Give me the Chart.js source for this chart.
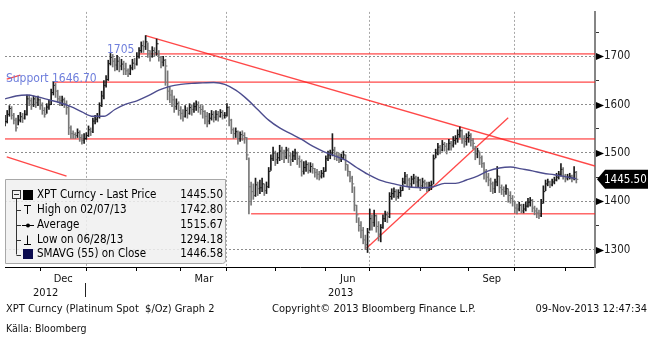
<!DOCTYPE html>
<html>
<head>
<meta charset="utf-8">
<script src="https://cdn.jsdelivr.net/npm/chart.js@4.4.0/dist/chart.umd.min.js"></script>
<style>
  html, body { margin: 0; padding: 0; background: #fff; }
  #wrap { width: 654px; height: 338px; }
</style>
</head>
<body>
<div id="wrap"><canvas id="xpt" width="654" height="338"></canvas></div>
<script>
// XPT Curncy daily bars, first bar Fri 09-Nov-2012, one row per week (Mon-Fri)
const START_DAY = '2012-11-09';
const highs = [
  1578,
  1588, 1598, 1596, 1582, 1572,
  1578, 1584, 1582, 1588, 1620,
  1620, 1614, 1618, 1616, 1618,
  1612, 1604, 1594, 1602, 1610,
  1632, 1648, 1644, 1630, 1618,
  1618, 1614, 1608, 1598, 1556,
  1546, 1542, 1550, 1546, 1538,
  1540, 1542, 1556, 1552, 1572,
  1578, 1582, 1604, 1628, 1650,
  1660, 1692, 1706, 1704, 1696,
  1702, 1698, 1694, 1690, 1686,
  1674, 1682, 1694, 1696, 1708,
  1718, 1730, 1732, 1743, 1728,
  1712, 1720, 1718, 1736, 1712,
  1700, 1700, 1694, 1670, 1636,
  1630, 1618, 1612, 1606, 1596,
  1590, 1598, 1594, 1602, 1600,
  1604, 1608, 1606, 1600, 1598,
  1588, 1584, 1582, 1588, 1586,
  1588, 1586, 1590, 1588, 1584,
  1602, 1596, 1570, 1552, 1552,
  1546, 1544, 1546, 1542, 1532,
  1490, 1440, 1436, 1448, 1440,
  1444, 1448, 1436, 1440, 1470,
  1496, 1512, 1504, 1500, 1516,
  1512, 1506, 1512, 1510, 1500,
  1504, 1508, 1502, 1494, 1486,
  1482, 1484, 1480, 1480, 1478,
  1468, 1466, 1462, 1464, 1470,
  1494, 1504, 1506, 1540, 1512,
  1502, 1500, 1498, 1504, 1496,
  1476, 1462, 1452, 1430, 1392,
  1366, 1358, 1346, 1330, 1344,
  1384, 1372, 1382, 1372, 1358,
  1352, 1372, 1380, 1378, 1418,
  1426, 1428, 1424, 1424, 1430,
  1448, 1460, 1456, 1448, 1452,
  1456, 1452, 1450, 1446, 1448,
  1444, 1440, 1440, 1442, 1496,
  1508, 1520, 1516, 1526, 1522,
  1520, 1528, 1524, 1534, 1536,
  1548, 1554, 1548, 1536, 1540,
  1544, 1540, 1530, 1514, 1510,
  1502, 1494, 1480, 1466, 1458,
  1448, 1440, 1446, 1472, 1452,
  1434, 1430, 1434, 1426, 1420,
  1412, 1400, 1394, 1398, 1394,
  1394, 1398, 1406, 1408, 1404,
  1390, 1386, 1382, 1404, 1432,
  1444, 1446, 1442, 1446, 1450,
  1458, 1462, 1478, 1470, 1456,
  1456, 1458, 1454, 1472, 1462
];
const lows = [
  1556,
  1562, 1576, 1570, 1560, 1545,
  1558, 1564, 1563, 1570, 1578,
  1598, 1590, 1596, 1594, 1598,
  1590, 1580, 1574, 1582, 1590,
  1600, 1620, 1615, 1605, 1598,
  1598, 1594, 1580, 1538, 1530,
  1530, 1530, 1532, 1524, 1518,
  1520, 1528, 1534, 1536, 1542,
  1560, 1564, 1572, 1596, 1612,
  1636, 1650, 1682, 1678, 1670,
  1672, 1668, 1672, 1662, 1662,
  1658, 1662, 1672, 1674, 1682,
  1696, 1708, 1708, 1714, 1698,
  1690, 1698, 1700, 1702, 1690,
  1676, 1680, 1640, 1610, 1604,
  1596, 1584, 1590, 1578, 1570,
  1566, 1574, 1572, 1580, 1578,
  1584, 1588, 1584, 1580, 1572,
  1560, 1554, 1560, 1568, 1564,
  1568, 1566, 1574, 1570, 1572,
  1576, 1556, 1540, 1530, 1532,
  1518, 1524, 1526, 1520, 1486,
  1374, 1392, 1404, 1410, 1412,
  1416, 1420, 1412, 1416, 1428,
  1464, 1484, 1474, 1478, 1484,
  1486, 1480, 1488, 1480, 1474,
  1482, 1486, 1476, 1470, 1452,
  1456, 1462, 1458, 1460, 1458,
  1450, 1446, 1444, 1448, 1450,
  1462, 1484, 1488, 1494, 1486,
  1484, 1480, 1482, 1486, 1464,
  1452, 1440, 1418, 1380, 1356,
  1338, 1324, 1312, 1300, 1294,
  1340, 1340, 1348, 1336, 1318,
  1316, 1344, 1358, 1356, 1366,
  1404, 1408, 1402, 1406, 1410,
  1422, 1436, 1432, 1424, 1430,
  1436, 1430, 1430, 1422, 1426,
  1426, 1420, 1422, 1424, 1436,
  1490, 1496, 1498, 1504, 1504,
  1498, 1506, 1506, 1512, 1518,
  1522, 1532, 1520, 1512, 1516,
  1522, 1514, 1508, 1486, 1490,
  1476, 1470, 1446, 1440, 1432,
  1420, 1416, 1418, 1432, 1418,
  1414, 1410, 1414, 1398, 1396,
  1390, 1376, 1374, 1380, 1376,
  1376, 1380, 1388, 1390, 1378,
  1372, 1366, 1364, 1368, 1396,
  1422, 1432, 1428, 1432, 1436,
  1442, 1446, 1452, 1446, 1440,
  1444, 1446, 1440, 1444, 1438
];
const closes = [
  1565,
  1580, 1592, 1578, 1568, 1552,
  1568, 1575, 1572, 1580, 1612,
  1608, 1600, 1612, 1604, 1610,
  1598, 1588, 1580, 1595, 1600,
  1625, 1640, 1628, 1612, 1608,
  1610, 1602, 1594, 1552, 1540,
  1538, 1536, 1542, 1532, 1526,
  1530, 1536, 1548, 1544, 1566,
  1570, 1575, 1598, 1618, 1640,
  1652, 1685, 1698, 1690, 1682,
  1690, 1680, 1684, 1674, 1670,
  1664, 1676, 1686, 1684, 1700,
  1712, 1722, 1720, 1730, 1712,
  1700, 1712, 1708, 1726, 1698,
  1688, 1692, 1680, 1628, 1620,
  1610, 1596, 1602, 1588, 1582,
  1576, 1588, 1582, 1594, 1590,
  1596, 1600, 1594, 1590, 1586,
  1576, 1566, 1572, 1580, 1574,
  1580, 1576, 1584, 1578, 1578,
  1594, 1568, 1548, 1540, 1544,
  1530, 1538, 1536, 1532, 1496,
  1430, 1420, 1412, 1434, 1426,
  1428, 1436, 1422, 1430, 1462,
  1488, 1500, 1486, 1490, 1504,
  1500, 1492, 1506, 1494, 1486,
  1494, 1500, 1488, 1482, 1462,
  1470, 1476, 1464, 1472, 1468,
  1460, 1456, 1452, 1458, 1462,
  1488, 1496, 1500, 1506, 1498,
  1494, 1486, 1490, 1496, 1476,
  1462, 1448, 1436, 1392, 1372,
  1350, 1340, 1320, 1310, 1336,
  1364, 1356, 1370, 1348, 1332,
  1346, 1364, 1372, 1368, 1410,
  1416, 1420, 1410, 1418, 1422,
  1440, 1452, 1444, 1436, 1446,
  1448, 1440, 1444, 1432, 1440,
  1436, 1426, 1432, 1434, 1488,
  1500, 1512, 1506, 1518, 1514,
  1508, 1520, 1516, 1526, 1530,
  1538, 1546, 1530, 1524, 1532,
  1536, 1526, 1520, 1498, 1504,
  1490, 1478, 1462, 1450, 1444,
  1436, 1426, 1440, 1452, 1428,
  1424, 1420, 1426, 1412, 1406,
  1400, 1386, 1384, 1392, 1380,
  1384, 1390, 1398, 1402, 1386,
  1380, 1376, 1370, 1396, 1420,
  1436, 1440, 1434, 1440, 1444,
  1450, 1456, 1466, 1452, 1448,
  1450, 1452, 1448, 1460, 1445.5
];

// SMAVG (55), at trading-day index
const maIdx = [0, 5, 10, 15, 20, 25, 30, 35, 40, 45, 50, 55, 60, 65, 70, 75, 80, 85, 90, 95, 100,
  105, 110, 115, 120, 125, 130, 135, 140, 145, 150, 155, 160, 165, 170, 175, 180, 185, 190, 195,
  200, 205, 210, 215, 220, 225, 230, 235, 240, 245, 250, 255, 260];
const maValues = [1612, 1618, 1620, 1616, 1610, 1604, 1596, 1585, 1576, 1576, 1590, 1601, 1608,
  1618, 1630, 1638, 1642, 1644, 1645, 1646, 1642, 1630, 1612, 1590, 1568, 1552, 1540, 1528, 1514,
  1503, 1494, 1485, 1470, 1456, 1445, 1438, 1433, 1429, 1428, 1430, 1437, 1437, 1444, 1452, 1463,
  1469, 1471, 1467, 1463, 1458, 1455, 1451, 1446.6];

// hand-drawn red levels and trend lines (index, price)
const X_MAX = 268.5;
const levelPrices = [1705, 1646.7, 1529, 1374];
const levelFrom = [61, 22, 0, 112];
const trendFromIdx = [64, 164.5, 0.8, 0.8];
const trendFromPrice = [1742.8, 1303, 1492, 1653];
const trendToIdx = [X_MAX, 229, 28, 7];
const trendToPrice = [1473, 1573, 1452, 1661];

const noteTexts = ['1705', 'Support 1646.70'];
const noteIdx = [46.4, 0.4];
const notePrice = [1705, 1646.7];

const yTicks = [1300, 1350, 1400, 1450, 1500, 1550, 1600, 1650, 1700, 1750];
const monthNames = ['Jan', 'Feb', 'Mar', 'Apr', 'May', 'Jun', 'Jul', 'Aug', 'Sep', 'Oct', 'Nov', 'Dec'];
const labelledMonths = [11, 2, 5, 8];   // Dec, Mar, Jun, Sep
const gridMonths = [0, 3, 6, 9];        // quarter starts

const statNames = ['XPT Curncy - Last Price', 'High on 02/07/13', 'Average', 'Low on 06/28/13', 'SMAVG (55) on Close'];
const statValues = ['1445.50', '1742.80', '1515.67', '1294.18', '1446.58'];
const lastPrice = 1445.50;

const footerLeft = 'XPT Curncy (Platinum Spot  $/Oz) Graph 2';
const footerMid = 'Copyright\u00a9 2013 Bloomberg Finance L.P.';
const footerRight = '09-Nov-2013 12:47:34';
const sourceNote = 'K\u00e4lla: Bloomberg';

const FONT_FAMILY = '"DejaVu Sans Condensed", "DejaVu Sans", sans-serif';
const RED = '#ff1a1a';

function tradingDays(start, count) {
  const out = [];
  const d = new Date(start + 'T00:00:00Z');
  while (out.length < count) {
    const wd = d.getUTCDay();
    if (wd !== 0 && wd !== 6) out.push(new Date(d));
    d.setUTCDate(d.getUTCDate() + 1);
  }
  return out;
}

const days = tradingDays(START_DAY, closes.length);
const monthStarts = [];   // {idx, month, year}
days.forEach((d, i) => {
  if (i > 0 && d.getUTCMonth() !== days[i - 1].getUTCMonth()) {
    monthStarts.push({ idx: i, month: d.getUTCMonth(), year: d.getUTCFullYear() });
  }
});
const gridIdx = new Set(monthStarts.filter(m => gridMonths.includes(m.month)).map(m => m.idx));

const barColors = closes.map((c, i) => (i > 0 && c < closes[i - 1]) ? '#777' : '#1a1a1a');

const datasets = [
  {
    type: 'line', label: 'SMAVG (55)',
    data: maIdx.map((v, i) => ({ x: v, y: maValues[i] })),
    borderColor: '#4d4d8e', borderWidth: 1.4, pointRadius: 0,
    cubicInterpolationMode: 'monotone', order: 0
  },
  {
    type: 'bar', label: 'range',
    data: highs.map((h, i) => ({ x: i, y: [lows[i], h] })),
    backgroundColor: barColors, barThickness: 1, borderWidth: 0, order: 1
  },
  {
    type: 'line', label: 'close',
    data: closes.map((c, i) => ({ x: i, y: c })),
    showLine: false, pointStyle: 'dash', pointRadius: 2,
    pointBorderWidth: 1, pointBorderColor: barColors, order: 1
  }
];
levelPrices.forEach((p, i) => {
  datasets.push({
    type: 'line', label: 'level ' + p,
    data: [{ x: levelFrom[i], y: p }, { x: X_MAX, y: p }],
    borderColor: RED, borderWidth: 1, pointRadius: 0, order: 2
  });
});
trendFromIdx.forEach((v, i) => {
  datasets.push({
    type: 'line', label: 'trend ' + i,
    data: [{ x: v, y: trendFromPrice[i] }, { x: trendToIdx[i], y: trendToPrice[i] }],
    borderColor: 'rgba(255,40,40,0.85)', borderWidth: 1.3, pointRadius: 0, order: 2
  });
});

const overlay = {
  id: 'overlay',
  afterDraw(chart) {
    const { ctx, chartArea: area, scales: { x, y } } = chart;
    ctx.save();

    // notes on the red levels
    ctx.fillStyle = '#6f7fdc';
    ctx.font = '12px ' + FONT_FAMILY;
    ctx.textBaseline = 'alphabetic';
    noteTexts.forEach((t, i) => {
      ctx.fillText(t, x.getPixelForValue(noteIdx[i]), y.getPixelForValue(notePrice[i]) - 0.5);
    });

    // arrow heads at labelled price ticks
    ctx.fillStyle = '#000';
    yTicks.filter(v => v % 100 === 0).forEach(v => {
      const py = Math.round(y.getPixelForValue(v)) + 0.5;
      ctx.beginPath();
      ctx.moveTo(area.right + 1, py - 3.5);
      ctx.lineTo(area.right + 9, py);
      ctx.lineTo(area.right + 1, py + 3.5);
      ctx.closePath();
      ctx.fill();
    });

    // last price tag
    const ly = y.getPixelForValue(lastPrice);
    ctx.beginPath();
    ctx.moveTo(area.right + 2, ly);
    ctx.lineTo(area.right + 10, ly - 9.5);
    ctx.lineTo(648, ly - 9.5);
    ctx.lineTo(648, ly + 9.5);
    ctx.lineTo(area.right + 10, ly + 9.5);
    ctx.closePath();
    ctx.fill();
    ctx.fillStyle = '#fff';
    ctx.font = '11.5px ' + FONT_FAMILY;
    ctx.textBaseline = 'middle';
    ctx.textAlign = 'left';
    ctx.fillText(lastPrice.toFixed(2), area.right + 9, ly + 0.5);

    // month and year labels under the axis
    ctx.fillStyle = '#111';
    ctx.font = '11px ' + FONT_FAMILY;
    ctx.textAlign = 'center';
    ctx.textBaseline = 'alphabetic';
    monthStarts.forEach((m, k) => {
      if (!labelledMonths.includes(m.month)) return;
      const next = k + 1 < monthStarts.length ? monthStarts[k + 1].idx : closes.length;
      ctx.fillText(monthNames[m.month], x.getPixelForValue((m.idx + next) / 2), 282);
    });
    const yearStart = monthStarts.find(m => m.month === 0);
    ctx.fillText(String(yearStart.year - 1), x.getPixelForValue(yearStart.idx / 2), 296);
    ctx.fillText(String(yearStart.year), x.getPixelForValue((yearStart.idx + X_MAX) / 2), 296);
    const sx = Math.round(x.getPixelForValue(yearStart.idx)) - 0.5;
    ctx.strokeStyle = '#222';
    ctx.lineWidth = 1;
    ctx.beginPath();
    ctx.moveTo(sx, 283);
    ctx.lineTo(sx, 297);
    ctx.stroke();

    // stats box
    ctx.fillStyle = 'rgba(240,240,240,0.86)';
    ctx.strokeStyle = '#a8a8a8';
    ctx.beginPath();
    ctx.roundRect(5.5, 179.5, 220, 84, [0, 0, 3, 0]);
    ctx.fill();
    ctx.stroke();

    const rows = [195, 210, 225, 240, 254.5];
    ctx.strokeStyle = '#333';
    ctx.beginPath();
    ctx.moveTo(16.5, 199);
    ctx.lineTo(16.5, rows[4]);
    rows.slice(1).forEach(r => { ctx.moveTo(16.5, Math.round(r) + 0.5); ctx.lineTo(21, Math.round(r) + 0.5); });
    ctx.stroke();
    ctx.strokeRect(12.5, 190.5, 8, 8);
    ctx.beginPath();
    ctx.moveTo(14, 194.5); ctx.lineTo(19, 194.5);
    ctx.stroke();

    ctx.fillStyle = '#000';
    ctx.fillRect(23, 190, 10, 10);
    ctx.fillStyle = '#0a0a4e';
    ctx.fillRect(23, 249, 10, 10);
    ctx.strokeStyle = '#000';
    ctx.beginPath();
    ctx.moveTo(24, 205.5); ctx.lineTo(31, 205.5);
    ctx.moveTo(27.5, 205.5); ctx.lineTo(27.5, 214);
    ctx.moveTo(22, 225.5); ctx.lineTo(34, 225.5);
    ctx.moveTo(27.5, 235.5); ctx.lineTo(27.5, 244);
    ctx.moveTo(24, 244.5); ctx.lineTo(31, 244.5);
    ctx.stroke();
    ctx.beginPath();
    ctx.arc(28, 225.5, 2, 0, Math.PI * 2);
    ctx.fillStyle = '#000';
    ctx.fill();

    ctx.font = '11.5px ' + FONT_FAMILY;
    ctx.textBaseline = 'middle';
    statNames.forEach((t, i) => {
      ctx.textAlign = 'left';
      ctx.fillText(t, 37, rows[i]);
      ctx.textAlign = 'right';
      ctx.fillText(statValues[i], 223, rows[i]);
    });

    // footer
    ctx.font = '11px ' + FONT_FAMILY;
    ctx.textBaseline = 'alphabetic';
    ctx.fillStyle = '#111';
    ctx.textAlign = 'left';
    ctx.fillText(footerLeft, 6, 312);
    ctx.fillText(footerMid, 272, 312);
    ctx.textAlign = 'right';
    ctx.fillText(footerRight, 647, 312);
    ctx.textAlign = 'left';
    ctx.font = '10.5px "Liberation Sans Narrow", "DejaVu Sans Condensed", sans-serif';
    ctx.fillText(sourceNote, 6, 332);
    ctx.restore();
  }
};

Chart.defaults.font.family = FONT_FAMILY;

new Chart(document.getElementById('xpt'), {
  type: 'bar',
  data: { datasets },
  plugins: [overlay],
  options: {
    responsive: false,
    animation: false,
    events: [],
    devicePixelRatio: 1,
    layout: { padding: { left: 5, top: 4, right: 0, bottom: 0 } },
    plugins: { legend: { display: false }, tooltip: { enabled: false } },
    scales: {
      x: {
        type: 'linear', min: 0, max: X_MAX, offset: false,
        afterBuildTicks: s => { s.ticks = monthStarts.map(m => ({ value: m.idx })); },
        afterFit: s => { s.height = 71; },
        ticks: { display: false },
        grid: {
          offset: false,
          color: c => (c.tick && gridIdx.has(c.tick.value)) ? '#a8a8a8' : 'rgba(0,0,0,0)',
          tickLength: 4, tickColor: '#000', tickWidth: 1
        },
        border: { display: true, color: '#000', width: 1, dash: [2, 2] }
      },
      y: {
        position: 'right', min: 1264, max: 1792,
        afterBuildTicks: s => { s.ticks = yTicks.map(v => ({ value: v })); },
        afterFit: s => { s.width = 59; },
        ticks: {
          callback: v => (v % 100 === 0 ? String(v) : ''),
          padding: 5, color: '#222', font: { size: 11.5 }
        },
        grid: {
          color: c => (c.tick && c.tick.value % 100 === 0) ? '#8c8c8c' : 'rgba(0,0,0,0)',
          tickLength: 4,
          tickColor: c => (c.tick && c.tick.value % 100 === 0) ? 'rgba(0,0,0,0)' : '#333'
        },
        border: { display: true, color: '#858585', width: 2, dash: [2, 2] }
      }
    }
  }
});
</script>
</body>
</html>
